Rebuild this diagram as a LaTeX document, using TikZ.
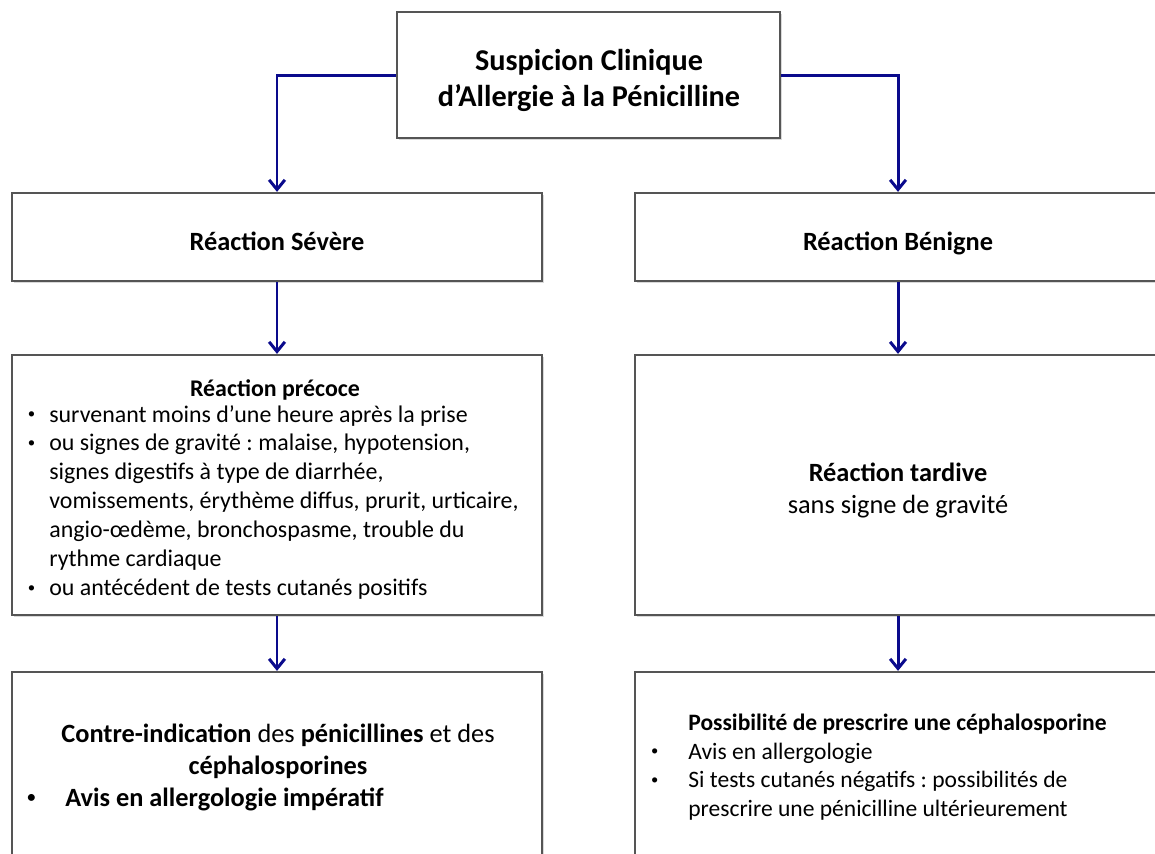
\documentclass[tikz,border=0pt]{standalone}
\usepackage{fontspec}
\setmainfont{Carlito}
\usetikzlibrary{fit,shadows,arrows.meta}
\frenchspacing
\definecolor{fleche}{RGB}{10,10,140}
\definecolor{bord}{RGB}{85,85,85}
\tikzstyle{boite}=[draw=bord, line width=1.3pt, fill=white, inner sep=0pt,
  drop shadow={shadow xshift=1.3pt, shadow yshift=-1.3pt, opacity=0.3}]
\tikzstyle{texte}=[inner sep=0pt, anchor=base west]
\tikzstyle{lien}=[draw=fleche, line width=1.7pt, -{Straight Barb[length=5.5pt,width=9pt]}]
\newcommand{\puce}[1][8pt]{\makebox[0pt][r]{\raisebox{0.13em}{\scalebox{0.62}{\textbullet}}\hspace{#1}}}
\newcommand{\bloc}[3]{\parbox[t]{10cm}{#1\fontsize{#2}{1.22\dimexpr #2pt\relax}\selectfont #3}}

\begin{document}
\begin{tikzpicture}[x=0.02cm,y=-0.02cm]
\useasboundingbox (0,0) rectangle (1155,853);
\clip (0,0) rectangle (1155,853);
% boites
\node[boite, fit={(397,12) (780,138)}] (susp) {};
\node[boite, fit={(12,193) (542,281)}] (severe) {};
\node[boite, fit={(635,193) (1161,281)}] (benigne) {};
\node[boite, fit={(12,355) (542,615)}] (precoce) {};
\node[boite, fit={(635,355) (1161,615)}] (tardive) {};
\node[boite, fit={(12,672) (542,860)}] (contre) {};
\node[boite, fit={(635,672) (1161,860)}] (possib) {};
% textes
\node[texte, anchor=base] (titresusp) at (589,70) {\bloc{\centering\bfseries}{17.2}{Suspicion Clinique\\d’Allergie à la Pénicilline}};
\node[texte, anchor=base] (titresevere) at (277,250) {\fontsize{15}{18}\selectfont\bfseries Réaction Sévère};
\node[texte, anchor=base] (titrebenigne) at (898,250) {\fontsize{15}{18}\selectfont\bfseries Réaction Bénigne};
\node[texte, anchor=base] (titreprecoce) at (275,396) {\fontsize{13.6}{16.4}\selectfont\bfseries Réaction précoce};
\node[texte] (listeprecoce) at (49,422) {\parbox[t]{10cm}{\raggedright\fontsize{13.6}{16.45}\selectfont
  \puce survenant moins d’une heure après la prise\\
  \puce ou signes de gravité : malaise, hypotension,\\
  signes digestifs à type de diarrhée,\\
  vomissements, érythème diffus, prurit, urticaire,\\
  angio-œdème, bronchospasme, trouble du\\
  rythme cardiaque\\
  \puce ou antécédent de tests cutanés positifs}};
\node[texte, anchor=base] (titretardive) at (898,481) {\bloc{\centering}{15}{\textbf{Réaction tardive}\\sans signe de gravité}};
\node[texte, anchor=base] (ci) at (278,742) {\parbox[t]{10cm}{\centering\fontsize{15}{18.3}\selectfont
  \textbf{Contre-indication} des \textbf{pénicillines} et des\\
  \textbf{céphalosporines}}};
\node[texte] (avis) at (65,806) {\fontsize{15}{18}\selectfont\bfseries\puce[17pt]Avis en allergologie impératif};
\node[texte] (listeposs) at (688,730) {\parbox[t]{10cm}{\raggedright\fontsize{13.4}{16.5}\selectfont
  \textbf{Possibilité de prescrire une céphalosporine}\\
  \puce[17pt]Avis en allergologie\\
  \puce[17pt]Si tests cutanés négatifs : possibilités de\\
  prescrire une pénicilline ultérieurement}};
% fleches
\draw[lien] (susp.west) -| (severe.north);
\draw[lien] (susp.east) -| (benigne.north);
\draw[lien] (severe) -- (precoce);
\draw[lien] (benigne) -- (tardive);
\draw[lien] (precoce) -- (contre);
\draw[lien] (tardive) -- (possib);
\end{tikzpicture}
\end{document}
